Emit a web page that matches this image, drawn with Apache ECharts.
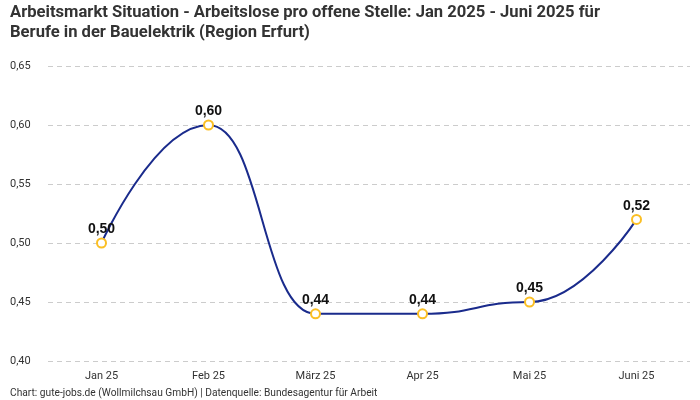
<!DOCTYPE html>
<html>
<head>
<meta charset="utf-8">
<script src="https://cdn.jsdelivr.net/npm/echarts@6/dist/echarts.min.js"></script>
<style>
html,body{margin:0;padding:0;background:#fff;}
#c{width:700px;height:400px;}
</style>
</head>
<body>
<div id="c"></div>
<script>
const titleText = "Arbeitsmarkt Situation - Arbeitslose pro offene Stelle: Jan 2025 - Juni 2025 für\nBerufe in der Bauelektrik (Region Erfurt)";
const footerText = "Chart: gute-jobs.de (Wollmilchsau GmbH) | Datenquelle: Bundesagentur für Arbeit";
const categories = ["Jan 25", "Feb 25", "März 25", "Apr 25", "Mai 25", "Juni 25"];
const values = [0.50, 0.60, 0.44, 0.44, 0.45, 0.52];

const fmt = v => v.toFixed(2).replace('.', ',');

const chart = echarts.init(document.getElementById('c'), null, {renderer: 'canvas'});
chart.setOption({
  backgroundColor: '#fff',
  animation: false,
  title: [{
    text: titleText,
    left: 10, top: 3, padding: 0,
    textStyle: {fontFamily: 'Roboto', fontWeight: 'bold', fontSize: 16.6, color: '#333', lineHeight: 20}
  }, {
    text: footerText,
    left: 10, bottom: 2, padding: 0,
    textStyle: {fontFamily: 'Roboto', fontWeight: 'normal', fontSize: 10.2, color: '#333'}
  }],
  grid: {left: 48, right: 10, top: 66, bottom: 39, containLabel: false},
  xAxis: {
    type: 'category',
    data: categories,
    boundaryGap: true,
    axisLine: {show: false},
    axisTick: {show: false},
    axisLabel: {color: '#333', fontSize: 11, fontFamily: 'Roboto', margin: 10}
  },
  yAxis: {
    type: 'value',
    min: 0.40, max: 0.65, interval: 0.05,
    axisLabel: {formatter: v => fmt(v), color: '#333', fontSize: 11, fontFamily: 'Roboto', align: 'left', margin: 38},
    splitLine: {lineStyle: {type: [5, 4], color: '#ccc'}},
    axisLine: {show: false},
    axisTick: {show: false}
  },
  series: [{
    type: 'line',
    data: values,
    smooth: true,
    smoothMonotone: 'x',
    symbol: 'circle',
    symbolSize: 9,
    lineStyle: {color: '#1a2b8c', width: 2},
    itemStyle: {color: '#fff', borderColor: '#fbbf24', borderWidth: 2},
    label: {
      show: true, position: 'top', distance: 1,
      formatter: p => fmt(p.value),
      fontSize: 14, color: '#111', fontWeight: 'bold', fontFamily: 'Liberation Sans'
    }
  }]
});
</script>
</body>
</html>
